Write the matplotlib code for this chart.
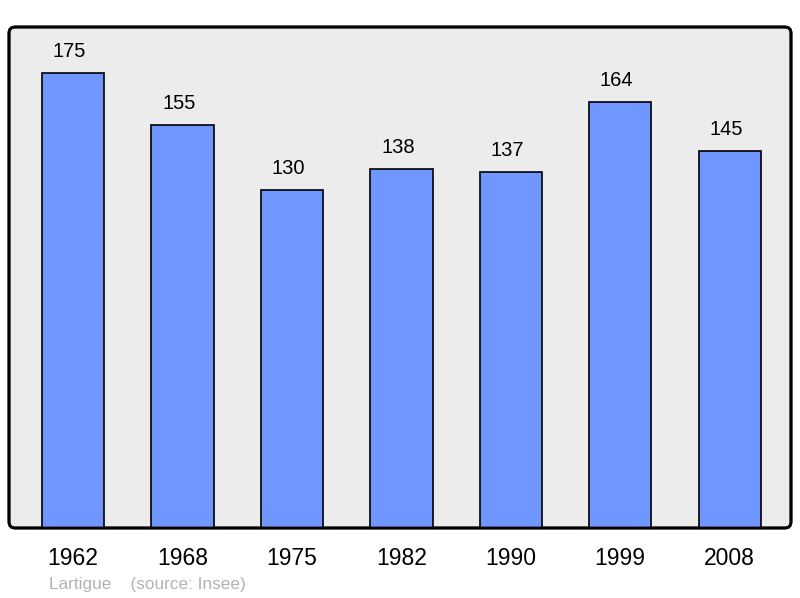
import matplotlib

matplotlib.use("Agg")
import matplotlib.pyplot as plt
from matplotlib.patches import FancyBboxPatch
import numpy as np

years = ["1962", "1968", "1975", "1982", "1990", "1999", "2008"]
population = [175, 155, 130, 138, 137, 164, 145]
footer = "Lartigue    (source: Insee)"

plt.rcParams["font.family"] = ["Liberation Sans", "DejaVu Sans"]

fig = plt.figure(figsize=(8.0, 5.98), dpi=100)
ax = fig.add_axes([9 / 800, 70 / 598, 782 / 800, 501 / 598])
ax.set_facecolor("none")

x = np.arange(len(years))
ax.bar(x, population, width=0.57, color="#7096ff", edgecolor="black",
       linewidth=1.2, zorder=2)
for xi, v in zip(x, population):
    ax.annotate(str(v), (xi, v), xytext=(-2.5, 15.5), textcoords="offset points",
                ha="center", va="center", fontsize=14.5)

ax.set_xlim(-0.584, len(years) - 1 + 0.56)
ax.set_ylim(0, 192.7)
ax.set_xticks(x)
ax.set_xticklabels(years, fontsize=16.5)
ax.tick_params(axis="x", length=0, pad=14)
ax.set_yticks([])
for s in ax.spines.values():
    s.set_visible(False)

frame = FancyBboxPatch((0, 0), 1, 1, boxstyle="round,pad=0,rounding_size=0.008",
                       mutation_aspect=782 / 501, transform=ax.transAxes,
                       facecolor="#ececec", edgecolor="black", linewidth=2,
                       clip_on=False, zorder=0)
ax.add_patch(frame)
frame2 = FancyBboxPatch((0, 0), 1, 1, boxstyle="round,pad=0,rounding_size=0.008",
                        mutation_aspect=782 / 501, transform=ax.transAxes,
                        facecolor="none", edgecolor="black", linewidth=2,
                        clip_on=False, zorder=3)
ax.add_patch(frame2)

fig.text(49 / 800, 1 - 584 / 598, footer, fontsize=12.4, color="#b3b3b3",
         ha="left", va="center")

fig.savefig("out.png", dpi=100)
